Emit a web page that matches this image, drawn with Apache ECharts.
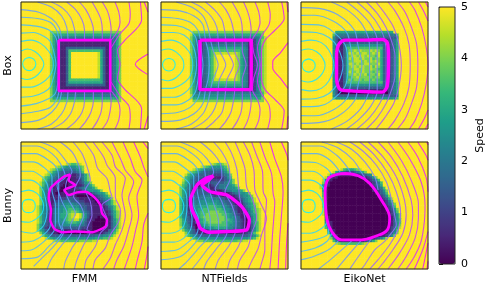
<!DOCTYPE html>
<html><head><meta charset="utf-8">
<style>html,body{margin:0;padding:0;background:#fff}#c{width:488px;height:284px}</style>
<script src="https://cdn.jsdelivr.net/npm/echarts@6/dist/echarts.min.js"></script>
</head><body><div id="c"></div>
<script>
// Speed on a 48x48 raster. '.' = 5, digit d = d/2. Missing cells are '.'
const speedBoxFMM=['','','','','','','','','','','',
'...........888888888888888888888888888',
'...........866666666666666666666666668',
'...........864444444444444444444444468',
'...........864222222222222222222223468',
'...........864211111111111111111113468',
'...........864211111111111111111113468',
'...........864211333333333333333113468',
'...........864211377777777777763113468',
'...........86421137..........963113468','...........86421137..........963113468','...........86421137..........963113468','...........86421137..........963113468','...........86421137..........963113468',
'...........86421137..........963113468','...........86421137..........963113468','...........86421137..........963113468','...........86421137..........963113468','...........86421137..........963113468',
'...........864211377777777777763113468',
'...........864211366666666666663113468',
'...........864211333333333333333113468',
'...........864211111111111111111113468',
'...........864211111111111111111113468',
'...........864333333333333333333333468',
'...........864444444444444444444444468',
'...........866666666666666666666666668',
'...........888888888888888888888888888'];
const speedBoxNT=['','','','','','','','','','','',
'............888888888888888888888888888',
'...........9666666666666666666666666668',
'...........86444444444444444444444444579',
'...........86422222222222222222222124689',
'...........86422333333333333333331024689',
'...........86422344444444444444431024689',
'...........86422346666666666666541024689',
'...........86422346777777777776541024689',
'...........86422346799999999986541024689',
'...........8642234679.......986541024689','...........8642234679.......986541024689','...........8642234679.......986541024689',
'...........8642234679.......986541024689','...........8642234679.......986541024689','...........8642234679.......986541024689',
'...........8642234679.......986541024689','...........8642234679.......986541024689','...........8642234679.......986541024689',
'...........86422346799999999986541024689',
'...........86422346777777777776541024689',
'...........86422346666666666666541024689',
'...........86422344444444444444431024689',
'...........86422222222222222222222124689',
'...........86444444444444444444444444579',
'...........9555555555555555555555555557',
'...........9666666666666666666666666668',
'............888888888888888888888888888'];
const speedBoxEiko=['','','','','','','','','','','',
'.............6666666666666666666666',
'............7444444444444444444444447',
'............5333333333333333333333335',
'............5311111111111111111112346',
'............5311333333333333333312346',
'............5311355555555555555312346',
'............5311377777777777777312346',
'............5311368898988898986312346',
'............5311369989899889896312346',
'............5311368998998988796312346',
'............5311369899898897886312346',
'............5311368899989898986312346',
'............5311369989889988896312346',
'............5311368998998897986312346',
'............5311368899898898876312346',
'............5311369889898887886312346',
'............5311368898989788796312346',
'............5311367889888887886312346',
'............5311368788878878776312346',
'............5311377777777777777312346',
'............5311355555555555555312346',
'............5311333333333333333312346',
'............5311111111111111111112346',
'............5300000000000000000002346',
'............5333333333333333333333335',
'............7555555555555555555555557'];
const speedBunnyFMM=['','','','','','','','',
'.................987789','.............98765555678','...........9876544444568','..........98654333333457',
'.........98654333221123468','........976543322111123468','........875433211101112468',
'.......97643221110111123568','.......975432111001111124568','.......8653211100111123455568','.......864311100111111134555568',
'.......86431100111111111112345568','.......864211111122210000001234568','.......8642111222333221111101234568','.......86421123344433322111101234579','.......86431234455554433221110124579',
'......9754312345566655433221111124579','......9754313455667766543221111123579','......97542134556778876543211111124689','......975421345667899.9753211111124689','......97542134566789..9753111011113689','......97532134556788997642110000113579','......97532134455677766532100000013579','......86432123445555554432100000013579','......86421112333333333221100000113579','......8653211111111222211110001113468',
'.......864321100000000000111111234579','........8653333333333333333344455679','.........97655555555555555556667789','............98877777778888899'];
const speedBunnyNT=['','','','','','','','',
'...................987789','...............98765555679','............98765444444568','..........9876543333333457','.........976543333322223458','.........765433322111112357',
'........97643322111222223468','........86543211122333334568','.......9764321122212334445568','.......87543112333112344555568','.......8653212333321111234455568','.......865311333333100001123445568','.......8643123344443222111112345568','.......76421334445544433221112345679','.......75412344555555544332111245679','.......754134455566665544332111345689','.......754134556667776655433211245679','.......7541345667777777655432111346789','.......7542145677788887765443111245789','.......7542135677888888776543211135689','.......7543125678888888876554311124689','.......8643214567888888877654321024689','.......8653213567788888776654321024679','.......8654210356677777776554321013679','.......9754320134555666665543321013579',
'........865431112233333333322111113579','.........8643211111111111111111123579','.........97654333333333333333333344579','...........97655555555555555555556679','.............98877777777777778899'];
const speedBunnyEiko=['','','','','','','','','','',
'...............97666789','............9654322234568','..........96432111111122345','.........95211000000000112358','........9521000000000000112347','........84100000000000000112347',
'.......962100000000000000012346','.......9610000000000000000012347',
'........6100000000000000000112358','........7100000000000000000012347','........71000000000000000000012358','........810000000000000000000012369','........8100000000000000000000012 47'.replace(' ',''),'........81000000000000000000000 12358'.replace(' ',''),'........810000000000000000000000 1247'.replace(' ',''),'........910000000000000000000000 12358'.replace(' ',''),'........9200000000000000000000000 1247'.replace(' ',''),'........9200000000000000000000000 12358'.replace(' ',''),
'.........3100000000000000000000000 1358'.replace(' ',''),'.........4100000000000000000000000 1357'.replace(' ',''),'.........52100000000000000000000001357','.........63100000000000000000000001358','.........741000000000000000000000 12369'.replace(' ',''),
'..........52100000000000000000000 1247'.replace(' ',''),'..........7310000000000000000000 12358'.replace(' ',''),'...........5210000000000000000112358','...........8410000000000011123469','............74211111111123468','.............9877777777 89'.replace(' ','')];

// Contours of arrival time: [level, x0,y0, x1,y1, ...] in each panel's own axis units, y downward
const contoursBoxFMM=[
[1,6.5,43.6,10,45,11.7,48.8,10,52.6,6.5,54,3,52.6,1.3,48.8,3,45,6.5,43.6],
[2,0,38.5,5,37,11,39,16,44,18,49,16,54,11,59,5,61,0,60],
[3,0,31,8,30,16,33,22,39,25,45,25.5,49,25,53,22,59,16,64,8,67,0,67],
[4,0,24.5,10,24,18,27,23,31,26,40,27.5,49,26,58,23,67,18,71,10,74,0,75],
[5,0,18,12,19,22,22,27,27,29,35,29.5,49,29,63,27,72,22,76,12,80,0,82],
[6,0,12,13,13,23,16,28,22,30,30],[6,30,70,28,77,23,83,13,86,0,88],
[7,0,6,14,8,24,13,30,20,32,30],[7,32,70,30,79,24,87,14,93,0,95],
[8,13,0,24,4,32,11,36,20,37,30],[8,37,70,36,79,32,88,24,96,13,100],
[9,24,0,33,5,39,12,42,21,43,30],[9,43,70,42,79,39,88,33,95,24,100],
[10,36,0,43,6,48,14,50,22,50,30],[10,50,70,50,78,48,87,43,94,36,100],
[11,46,0,51,6,55,14,57,22,57,30],[11,57,70,57,78,55,87,51,94,46,100],
[12,56,0,60,7,63,14,64,22,64,30],[12,64,70,64,78,63,87,60,94,56,100],
[13,64,0,68,7,70,14,71,22,70,30],[13,70,70,71,78,70,87,68,94,64,100],
[14,74,0,77,8,78,16,76,23,71,30],[14,71,70,76,77,78,85,77,93,74,100],
[15,85,0,86,9,85,17,78,25,71,36],[15,71,63,78,74,85,82,86,91,85,100],
[16,94,0,95,14,81,31,76,38,78,49,76,60,81,68,95,84,94,100],
[17,100,41,90,49,99.5,57],[17,97,0,100,8],[17,100,90,97,100]];
const contoursBoxNT=[
[1,6.2,44.3,9.7,45.7,11.2,49.3,9.7,53,6.2,54.3,2.7,53,1.2,49.3,2.7,45.7,6.2,44.3],
[2,0,38,6,37,12,39.5,17,45,18,49.5,17,54,12,59.5,6,62,0,61],
[3,0,31,8,30,16,33,22,39,24.5,45,25,49.5,24.5,54,22,60,16,65,8,68,0,68],
[4,0,24,10,24,18,26,24,32,27,40,28,49.5,27,58,24,66,18,72,10,75,0,75],
[5,0,18,12,18.5,22,22,27,27,29,36,30,49.5,29,62,27,71,22,77,12,81,0,81],
[6,0,12,13,13,23,16,29,22,31,30,32,40,33,49.5,32,60,31,69,29,76,23,83,13,87,0,88],
[7,0,6,15,7,26,11,33,18,35,30,37,38,38,49.5,37,61,35,69,33,80,26,88,15,93,0,94],
[8,12,0,24,4,33,11,37,20,39,30,41,38,45,49.5,41,61,39,69,37,79,33,88,24,96,12,100],
[9,24,0,33,5,40,12,44,20,45,30,46,38,51,49.5,46,61,45,69,44,79,40,88,33,95,24,100],
[10,35,0,42,6,48,14,50,22,51,30,52,38,57,49.5,52,61,51,69,50,78,48,87,42,94,35,100],
[11,46,0,51,6,55,14,57,22,58,30,58,38,62,49.5,58,61,58,69,57,78,55,87,51,94,46,100],
[12,56,0,60,7,63,14,64,22,64,30,64,38,67,49.5,64,61,64,69,64,78,63,87,60,94,56,100],
[13,65,0,68,7,70,14,71,22,70,30,71,40,72,49.5,71,60,70,69,71,78,70,87,68,94,65,100],
[14,74,0,77,8,78,16,76,23,72,30,73,40,76,49.5,73,60,72,69,76,77,78,85,77,93,74,100],
[15,84,0,86,10,85,18,79,27,76,36,78,49.5,76,62,79,72,85,81,86,90,84,100],
[16,95,0,97,13,90,22,82,30,79,40,79,49.5,79,59,82,69,90,77,97,86,95,100],
[17,100,32,94,40,88,47,88,52,94,60,100,68],[17,99,0,100,8],[17,100,90,99,100]];
const contoursBoxEiko=[
[1,6,44.8,9.7,46.3,11.2,50,9.7,53.7,6,55.2,2.3,53.7,0.8,50,2.3,46.3,6,44.8],
[2,0,38,6,37,12,39,17,44,19,50,17,56,12,61,6,63,0,62],
[3,0,31,8,30,16,32,22,38,26,50,22,62,16,68,8,70,0,69],
[4,0,23.5,12,24,22,28,29,36,33,50,29,64,22,72,12,76,0,76.5],
[5,0,17.6,14,18,22.5,21.4,34.6,33.5,37,50,34.6,66.5,22.5,78.6,14,82,0,82.4],
[6,0,10.5,11,10.4,26,15.4,36,24,39,35,41,50,39,65,36,76,26,84.6,11,89.6,0,89.5],
[7,0,4.4,14,5,29,10,42,22,45,35,48,50,45,65,42,78,29,90,14,95,0,95.6],
[8,24,0,36,6,47,16,53,28,54,38,54,50,54,62,53,72,47,84,36,94,24,100],
[9,36,0,46,8,55,18,60,30,60,40,60,50,60,60,60,70,55,82,46,92,36,100],
[10,44,0,54,9,62,20,66,30,67,40,67,50,67,60,66,70,62,80,54,91,44,100],
[11,51.5,0,60,9,67,20,71,30,74,42,74,50,74,58,71,70,67,80,60,91,51.5,100],
[12,59,0,66,9,73,20,77,33,79,50,77,67,73,80,66,91,59,100],
[13,68.5,0,74,7,81,20,85,33,86,50,85,67,81,80,74,93,68.5,100],
[14,76,0,82,8,87,20,91,33,92,50,91,67,87,80,82,92,76,100],
[15,85.4,0,90,7,95,20,98.5,35,100,50,98.5,65,95,80,90,93,85.4,100],
[16,92.5,0,97,8,100,15],[16,100,85,97,92,92.5,100],[17,98,0,100,4],[17,100,96,98,100]];
const contoursBunnyFMM=[
[1,85,193,99,197,105,213,99,229,85,233,71,229,65,213,71,197,85,193],
[2,62,170,85,165,110,175,125,195,130,213,125,235,110,250,85,262,62,260],
[3,62,135,90,135,115,148,130,170,137,200,140,230,135,260,125,278,95,295,62,290],
[4,62,108,95,108,125,125,140,145,148,190,150,230,150,270,135,295,100,318,62,322],
[5,62,80,100,80,135,100,155,125,155,165,165,210,165,260,160,290,125,325,95,345,62,348],
[6,62,55,105,55,145,75,170,100,175,130,175,210,175,260,185,290,145,335,110,368,62,372],
[7,62,32,110,32,155,55,180,85,195,125,170,150,185,200,200,235,185,275,190,290,160,335,130,365,100,395],
[8,120,20,165,40,195,75,215,110,200,135,195,165,205,195,225,235,210,275,215,290,185,330,155,370,140,403],
[9,180,20,215,50,235,90,240,120,225,155,220,185,240,210,250,240,235,285,240,295,215,340,195,380,190,403],
[10,218,20,245,55,262,100,270,135,255,165,270,200,275,240,260,285,270,290,250,330,230,375,222,403],
[11,252,20,280,60,292,100,320,130,330,170,335,185,305,210,320,250,322,270,300,295,285,335,258,375,252,403],
[12,278,20,310,65,320,90,345,130,345,185,360,225,355,260,330,300,315,340,285,375,278,403],
[13,305,20,335,60,345,95,375,130,365,180,375,240,365,285,345,330,330,370,308,403],
[14,335,20,360,70,375,105,400,140,385,190,395,240,385,285,370,335,350,375,340,403],
[15,368,20,390,70,405,110,425,135,410,185,415,240,405,290,395,335,380,380,372,403],
[16,400,20,420,65,430,95,443,125],[16,443,235,430,270,425,320,410,380,405,403],
[17,428,20,443,40],[17,443,335,440,360,432,403]];
const contoursBunnyNT=[
[1,55,193,69,197,75,213,69,229,55,233,41,229,35,213,41,197,55,193],
[2,31,170,55,165,80,175,95,195,100,213,95,235,80,250,55,262,31,260],
[3,31,135,60,135,85,150,105,170,110,210,105,255,95,280,60,295,31,295],
[4,31,108,65,108,95,125,118,150,118,210,125,255,120,285,100,310,70,322,31,322],
[5,31,80,70,80,105,100,130,125,130,150,130,210,145,255,140,295,110,325,80,345,31,350],
[6,31,55,75,55,115,75,140,100,145,130,140,160,150,210,165,255,155,295,125,335,90,365,31,375],
[7,31,32,80,32,125,55,155,85,165,125,155,155,170,210,180,255,180,295,145,340,110,380,85,403],
[8,90,20,135,40,170,70,190,110,175,150,190,205,205,260,205,295,170,345,140,385,125,403],
[9,150,20,185,50,210,85,215,125,195,160,215,200,230,255,230,295,200,340,170,380,160,403],
[10,190,20,215,50,235,90,240,130,225,170,245,210,258,260,255,295,235,335,205,375,195,403],
[11,225,20,245,55,260,100,265,150,270,195,285,255,280,295,265,335,240,375,232,403],
[12,255,20,270,55,285,100,290,155,310,200,320,250,305,295,295,335,270,375,262,403],
[13,280,20,300,60,312,105,315,165,330,200,350,250,335,300,325,340,305,380,295,403],
[14,305,20,320,60,338,110,340,170,350,195,345,270,345,300,345,345,335,385,330,403],
[15,330,20,345,65,365,115,370,175,375,200,372,250,368,300,365,350,360,403],
[16,360,20,375,70,395,125,400,170,395,245,390,310,385,403],
[17,395,20,412,60,415,75],[17,415,265,410,340,408,403]];
const contoursBunnyEiko=[
[1,40,193,54,197,60,213,54,229,40,233,26,229,20,213,26,197,40,193],
[2,17,170,40,165,65,175,80,195,85,213,80,235,65,250,40,262,17,260],
[3,17,135,45,135,70,145,88,165,92,213,95,260,80,280,45,295,17,295],
[4,17,108,50,108,82,125,92,150],[4,100,265,100,295,75,310,17,322],
[5,17,80,60,82,95,100,110,118],[5,110,295,95,320,60,340,17,350],
[6,17,55,65,55,105,75,135,110],[6,130,318,100,345,55,365,17,375],
[7,17,32,75,32,125,60,160,100,168,118],[7,170,318,135,350,100,380,70,403],
[8,80,20,130,38,175,75,205,120,212,130],[8,200,315,170,350,140,385,125,403],
[9,125,20,170,42,210,80,240,125,250,165],[9,235,305,205,345,170,395,165,403],
[10,165,20,205,48,245,90,275,140,290,190,300,240,305,270,290,295,270,320,240,345,210,390,200,403],
[11,195,20,240,60,280,115,305,170,318,230,312,280,285,330,250,375,225,403],
[12,220,20,265,65,305,125,330,195,335,240,325,295,295,345,265,385,250,403],
[13,250,20,290,65,325,125,350,195,355,240,345,300,315,355,280,403],
[14,280,20,320,75,350,135,372,205,372,250,362,310,335,365,310,403],
[15,310,20,345,70,380,140,392,210,390,260,380,320,360,365,335,403],
[16,340,20,370,65,395,125,401,170],[16,401,290,385,345,360,403],
[17,370,20,395,60,401,75],[17,401,325,392,370,385,403],
[18,397,20,401,28],[18,401,380,398,403]];

// Thick magenta obstacle outlines: x0,y0, x1,y1, ...
const outlineBoxFMM=[29.7,30,70.3,30,70.3,70,29.7,70,29.7,30];
const outlineBoxNT=[30.7,30,71,30,71,69,30.7,69,30.7,30];
const outlineBoxEiko=[28,40,30,33,35,30,50,30,64,29.5,68,32,69,45,68,66,64,71,50,70.5,40,70,31,69,28,60,28,40];
const outlineBunnyFMM=[210,118,190,125,165,145,150,160,145,190,152,225,150,255,162,282,185,292,225,290,275,292,315,275,320,255,305,235,300,210,280,185,255,170,230,172,205,180,192,165,225,150,205,135,210,118];
const outlineBunnyNT=[190,122,170,128,140,150,120,195,125,225,140,255,150,280,175,292,230,290,290,285,298,255,275,215,230,180,180,170,155,150,175,135,190,122];
const outlineBunnyEiko=[150,115,190,122,225,145,260,195,285,250,278,285,240,305,200,315,140,315,110,290,95,250,90,170,100,130,125,118,150,115];

const methodNames=['FMM','NTFields','EikoNet'];
const shapeNames=['Box','Bunny'];
const speedFields=[speedBoxFMM,speedBoxNT,speedBoxEiko,speedBunnyFMM,speedBunnyNT,speedBunnyEiko];
const contourSets=[contoursBoxFMM,contoursBoxNT,contoursBoxEiko,contoursBunnyFMM,contoursBunnyNT,contoursBunnyEiko];
const outlines=[outlineBoxFMM,outlineBoxNT,outlineBoxEiko,outlineBunnyFMM,outlineBunnyNT,outlineBunnyEiko];
const outlineWidths=[2.6,3.4,3.4,2.4,3.4,2.8];
const outlineSmooth=[0,0,.3,.2,.2,.4];
const frames=[[0,100,0,100],[0,100,0,100],[0,100,0,100],[62,443,20,403],[31,415,20,403],[17,401,20,403]];
const colorbarTicks=[0,5,1];
const topLevel=18;
const viridis=['#440154','#482878','#3e4989','#31688e','#26828e','#1f9e89','#35b779','#6ece58','#b5de2b','#fde725'];

const lefts=[21,161,301], tops=[2,142], side=127, N=48;
const font={fontFamily:'DejaVu Sans',fontSize:11,color:'#000'};
const cellIdx=Array.from({length:N},(_,i)=>i);
const grid=[],xAxis=[],yAxis=[],heat=[],lines=[];
const hiddenCat=()=>({type:'category',data:cellIdx,axisLine:{show:false},axisTick:{show:false},axisLabel:{show:false},splitLine:{show:false},nameLocation:'middle',nameTextStyle:font,silent:true});
const pairs=a=>{const o=[];for(let i=0;i+1<a.length;i+=2)o.push([a[i],a[i+1]]);return o};
const cool=k=>{const t=k/topLevel;return `rgba(${Math.round(255*t)},${Math.round(255*(1-t))},255,.85)`};
for(let i=0;i<6;i++){
  const col=i%3,row=Math.floor(i/3),g=2*i,f=frames[i];
  const box={left:lefts[col],top:tops[row],width:side,height:side,outerBoundsMode:'none'};
  grid.push({...box,show:false});
  grid.push({...box,show:true,backgroundColor:'transparent',borderColor:'#222',borderWidth:1,z:10});
  xAxis.push({...hiddenCat(),gridIndex:g,name:row==1?methodNames[col]:'',nameGap:5});
  yAxis.push({...hiddenCat(),gridIndex:g,inverse:true,name:col==0?shapeNames[row]:'',nameGap:7,nameRotate:90});
  xAxis.push({type:'value',gridIndex:g+1,min:f[0],max:f[1],show:false});
  yAxis.push({type:'value',gridIndex:g+1,min:f[2],max:f[3],inverse:true,show:false});
  const cells=[];
  for(let r=0;r<N;r++){const s=speedFields[i][r]||'';for(let c=0;c<N;c++){const ch=s[c]||'.';cells.push([c,r,ch==='.'?5:(+ch)/2]);}}
  heat.push({type:'heatmap',xAxisIndex:g,yAxisIndex:g,data:cells,silent:true,progressive:0,animation:false});
  contourSets[i].forEach(ct=>lines.push({type:'line',xAxisIndex:g+1,yAxisIndex:g+1,data:pairs(ct.slice(1)),symbol:'none',smooth:.3,silent:true,animation:false,z:3,lineStyle:{width:1.1,color:cool(ct[0])}}));
  lines.push({type:'line',xAxisIndex:g+1,yAxisIndex:g+1,data:pairs(outlines[i]),symbol:'none',smooth:outlineSmooth[i],silent:true,animation:false,z:4,lineStyle:{width:outlineWidths[i],color:'#ff00ff'}});
}
grid.push({left:439,top:7,width:16,height:257,show:true,backgroundColor:'transparent',borderColor:'#222',borderWidth:1,z:10,outerBoundsMode:'none'});
xAxis.push({type:'value',gridIndex:12,show:false,min:0,max:1});
yAxis.push({type:'value',gridIndex:12,position:'right',min:colorbarTicks[0],max:colorbarTicks[1],interval:colorbarTicks[2],
  axisLine:{show:false},splitLine:{show:false},axisTick:{show:true,length:4,lineStyle:{color:'#000',width:1}},axisLabel:{...font,margin:6},
  name:'Speed',nameLocation:'middle',nameGap:20,nameRotate:90,nameTextStyle:font});
lines.push({type:'line',xAxisIndex:12,yAxisIndex:12,data:[],silent:true});

const chart=echarts.init(document.getElementById('c'),null,{renderer:'canvas'});
chart.setOption({animation:false,backgroundColor:'#fff',grid,xAxis,yAxis,
  tooltip:{show:false},
  visualMap:{type:'continuous',min:0,max:5,seriesIndex:[0,1,2,3,4,5],left:439,top:7,itemWidth:16,itemHeight:257,padding:0,text:null,showLabel:false,calculable:false,hoverLink:false,inRange:{color:viridis}},
  series:[...heat,...lines]});
</script></body></html>
